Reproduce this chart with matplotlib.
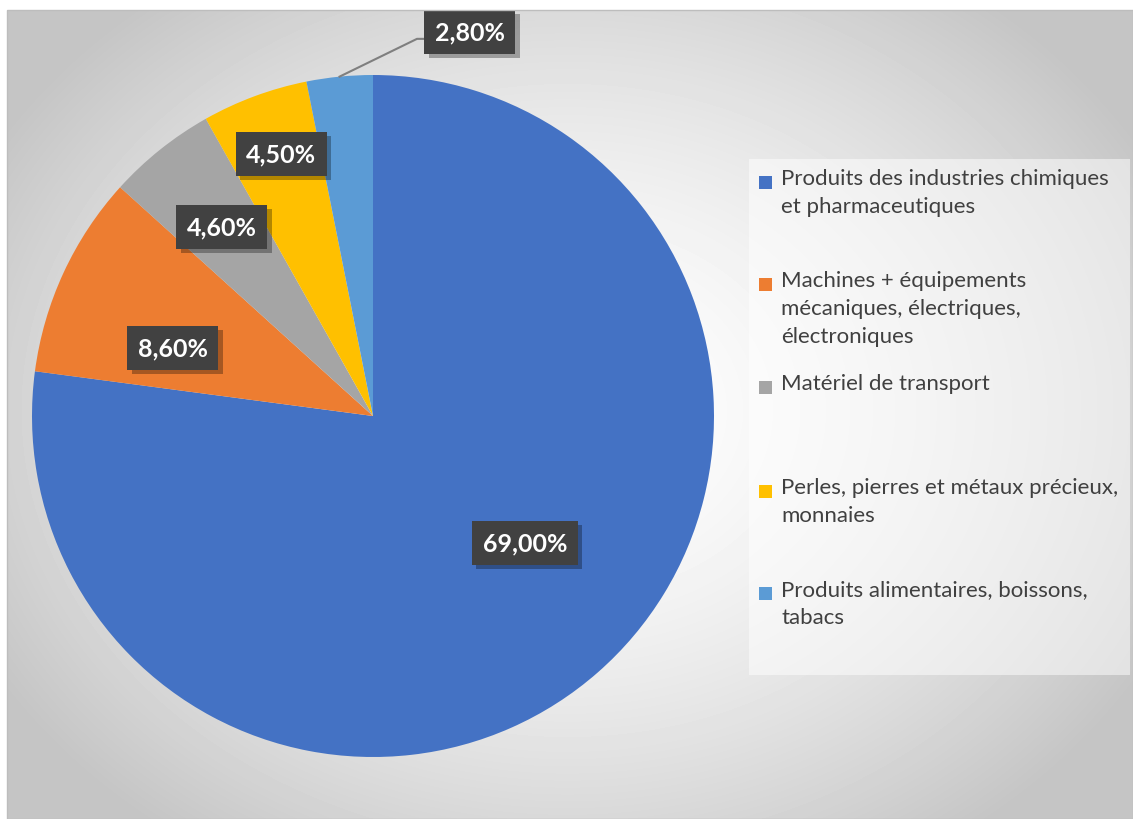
import numpy as np
import matplotlib
matplotlib.use("Agg")
from matplotlib import pyplot as plt
from matplotlib import patheffects as pe
from matplotlib.patches import Rectangle

categories = [
    "Produits des industries chimiques\net pharmaceutiques",
    "Machines + équipements\nmécaniques, électriques,\nélectroniques",
    "Matériel de transport",
    "Perles, pierres et métaux précieux,\nmonnaies",
    "Produits alimentaires, boissons,\ntabacs",
]
values = [69.0, 8.6, 4.6, 4.5, 2.8]
labels = ["69,00%", "8,60%", "4,60%", "4,50%", "2,80%"]
colors = ["#4472C4", "#ED7D31", "#A5A5A5", "#FFC000", "#5B9BD5"]

W, H = 1133, 820
fig = plt.figure(figsize=(W / 100, H / 100), dpi=100)
fig.patch.set_facecolor("white")

# background of the chart area, radial gradient
bg = fig.add_axes([7 / W, 0, 1 - 7 / W, 1 - 11 / H])
yy, xx = np.mgrid[0:809, 0:1126]
d = np.hypot((xx - 560) / 700, (yy - 400) / 560)
g = np.clip(1.0 - 0.25 * d ** 1.6, 0.77, 1.0)
bg.imshow(g, cmap="gray", vmin=0, vmax=1, aspect="auto", interpolation="bilinear")
bg.set_axis_off()
fig.add_artist(Rectangle((7 / W, 0), 1 - 7 / W, 1 - 11 / H, transform=fig.transFigure,
                         fill=False, edgecolor="#bdbdbd", lw=1))

# pie
cx, cy, R = 373, 417, 341
ax = fig.add_axes([(cx - R) / W, (H - cy - R) / H, 2 * R / W, 2 * R / H])
wedges, _ = ax.pie(values, colors=colors, startangle=90, counterclock=False,
                   radius=1, wedgeprops=dict(linewidth=0))
ax.set_xlim(-1, 1)
ax.set_ylim(-1, 1)
ax.set_axis_off()

box = dict(boxstyle="square,pad=0.42", facecolor="#414141", edgecolor="none", lw=0)
shadow = [pe.SimplePatchShadow(offset=(3, -3), shadow_rgbFace="black", alpha=0.3), pe.Normal()]

# label placement: radial fraction and angle shift per slice
rfrac = [0.58, 0.62, 0.71, 0.815]
ashift = [9, 6, 0, -1]
for i, w in enumerate(wedges[:4]):
    a = np.deg2rad((w.theta1 + w.theta2) / 2 + ashift[i])
    t = ax.text(rfrac[i] * np.cos(a), rfrac[i] * np.sin(a), labels[i], ha="center", va="center",
                color="white", fontsize=18, fontweight="bold", family="Lato", bbox=box, zorder=5)
    t.get_bbox_patch().set_path_effects(shadow)

# small slice, label outside with leader line
w = wedges[4]
a = np.deg2rad((w.theta1 + w.theta2) / 2)
p0 = (np.cos(a), np.sin(a))
ax.plot([p0[0], 0.129, 0.165], [p0[1], 1.106, 1.106], color="#7f7f7f", lw=1.5,
        clip_on=False, zorder=4)
t = ax.text(0.284, 1.127, labels[4], ha="center", va="center", color="white", fontsize=18,
            fontweight="bold", family="Lato", bbox=box, zorder=5)
t.get_bbox_patch().set_path_effects(shadow)

# legend
fig.add_artist(Rectangle((749 / W, 1 - 676 / H), 381 / W, 516 / H, transform=fig.transFigure,
                         facecolor="white", alpha=0.5, edgecolor="none"))
legend_y = [183, 285, 388, 492, 594]
for i, cat in enumerate(categories):
    y = 1 - legend_y[i] / H
    fig.add_artist(Rectangle((759 / W, y - 7 / H), 13 / W, 13 / H, transform=fig.transFigure,
                             facecolor=colors[i], edgecolor="none"))
    fig.text(781 / W, y + 14 / H, cat, ha="left", va="top", fontsize=16, family="Lato",
             color="#404040", linespacing=1.5)

fig.savefig("out.png", dpi=100)
